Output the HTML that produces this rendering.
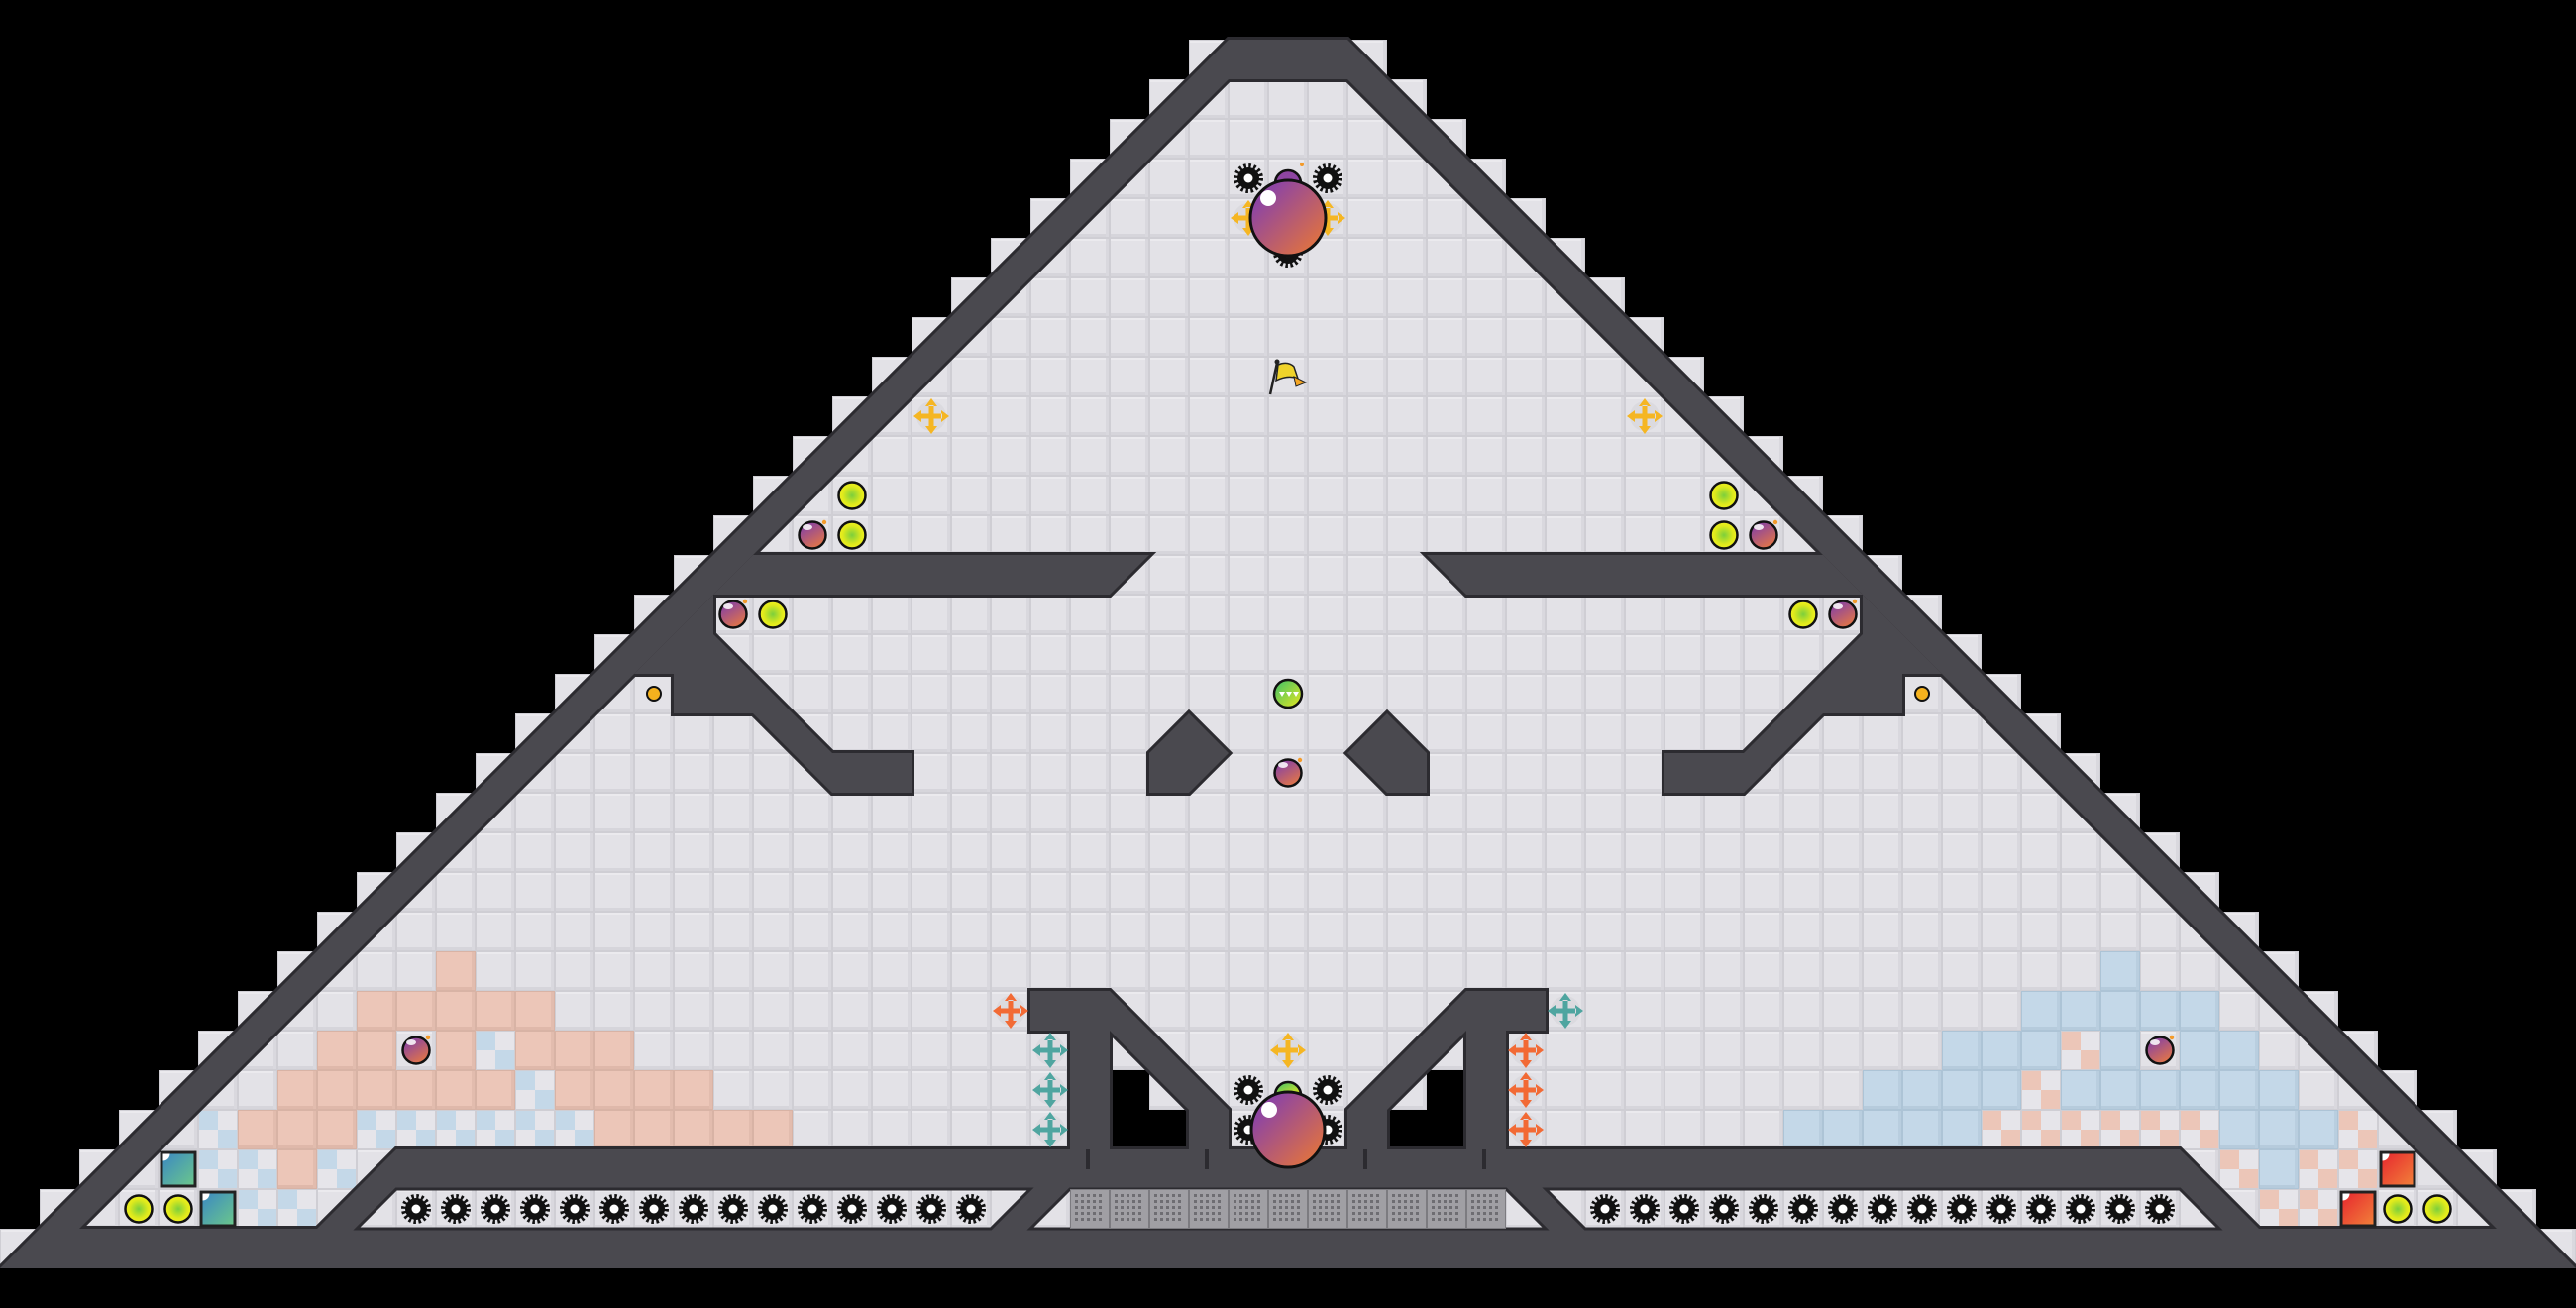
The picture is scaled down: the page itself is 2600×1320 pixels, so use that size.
<!DOCTYPE html>
<html><head><meta charset="utf-8"><style>
html,body{margin:0;padding:0;background:#000;}
svg{display:block;}
</style></head><body>
<svg width="2600" height="1320" viewBox="0 0 2600 1320" xmlns="http://www.w3.org/2000/svg">
<defs>
<pattern id="cell" width="40" height="40" patternUnits="userSpaceOnUse">
<rect width="40" height="40" fill="#cfced4"/><rect x="1" y="1" width="38" height="38" fill="#e3e2e7"/>
<rect x="1" y="36" width="38" height="3" fill="#d6d5db"/><rect x="36" y="1" width="3" height="38" fill="#d9d8de"/>
<rect x="1" y="1" width="35" height="2" fill="#ebeaee"/>
</pattern>
<pattern id="pk" width="40" height="40" patternUnits="userSpaceOnUse">
<rect width="40" height="40" fill="#d8b3a5"/><rect x="1" y="1" width="38" height="38" fill="#ecc6b8"/>
<rect x="1" y="36" width="38" height="3" fill="#dfb8aa"/><rect x="36" y="1" width="3" height="38" fill="#e2bcae"/>
</pattern>
<pattern id="bl" width="40" height="40" patternUnits="userSpaceOnUse">
<rect width="40" height="40" fill="#adc4d6"/><rect x="1" y="1" width="38" height="38" fill="#c4d8e8"/>
<rect x="1" y="36" width="38" height="3" fill="#b6cbdc"/><rect x="36" y="1" width="3" height="38" fill="#b9cedf"/>
</pattern>
<pattern id="ckb" width="40" height="40" patternUnits="userSpaceOnUse">
<rect width="40" height="40" fill="#cfced4"/><rect x="1" y="1" width="38" height="38" fill="#e6e5ea"/>
<rect x="1" y="1" width="19" height="19" fill="#c4d8e8"/><rect x="20" y="20" width="19" height="19" fill="#c4d8e8"/>
</pattern>
<pattern id="ckp" width="40" height="40" patternUnits="userSpaceOnUse">
<rect width="40" height="40" fill="#cfced4"/><rect x="1" y="1" width="38" height="38" fill="#e6e5ea"/>
<rect x="1" y="1" width="19" height="19" fill="#ecc6b8"/><rect x="20" y="20" width="19" height="19" fill="#ecc6b8"/>
</pattern>
<pattern id="grate" width="40" height="40" patternUnits="userSpaceOnUse">
<rect width="40" height="40" fill="#7c7b80"/><rect x="1" y="1" width="38" height="38" fill="#a09fa4"/>
<g fill="#6e6d72">
<rect x="5" y="5" width="3" height="3"/><rect x="11" y="5" width="3" height="3"/><rect x="17" y="5" width="3" height="3"/><rect x="23" y="5" width="3" height="3"/><rect x="29" y="5" width="3" height="3"/>
<rect x="5" y="11" width="3" height="3"/><rect x="11" y="11" width="3" height="3"/><rect x="17" y="11" width="3" height="3"/><rect x="23" y="11" width="3" height="3"/><rect x="29" y="11" width="3" height="3"/>
<rect x="5" y="17" width="3" height="3"/><rect x="11" y="17" width="3" height="3"/><rect x="17" y="17" width="3" height="3"/><rect x="23" y="17" width="3" height="3"/><rect x="29" y="17" width="3" height="3"/>
<rect x="5" y="23" width="3" height="3"/><rect x="11" y="23" width="3" height="3"/><rect x="17" y="23" width="3" height="3"/><rect x="23" y="23" width="3" height="3"/><rect x="29" y="23" width="3" height="3"/>
<rect x="5" y="29" width="3" height="3"/><rect x="11" y="29" width="3" height="3"/><rect x="17" y="29" width="3" height="3"/><rect x="23" y="29" width="3" height="3"/><rect x="29" y="29" width="3" height="3"/>
</g>
</pattern>
<radialGradient id="yel" cx="0.5" cy="0.5" r="0.5"><stop offset="0" stop-color="#7ccf3c"/><stop offset="0.7" stop-color="#e0ea1c"/><stop offset="1" stop-color="#eef020"/></radialGradient>
<linearGradient id="pur" x1="0" y1="0" x2="1" y2="1"><stop offset="0.2" stop-color="#8e45a2"/><stop offset="1" stop-color="#ef7a2e"/></linearGradient>
<linearGradient id="pur2" x1="0" y1="0" x2="0.6" y2="1"><stop offset="0.2" stop-color="#8a44a0"/><stop offset="1" stop-color="#e0744a"/></linearGradient>
<linearGradient id="teal" x1="0" y1="0" x2="1" y2="1"><stop offset="0" stop-color="#3a86c4"/><stop offset="1" stop-color="#6cc98a"/></linearGradient>
<linearGradient id="red" x1="0" y1="0" x2="1" y2="1"><stop offset="0" stop-color="#e6242e"/><stop offset="1" stop-color="#f2833a"/></linearGradient>
<linearGradient id="grn" x1="0" y1="0" x2="1" y2="1"><stop offset="0" stop-color="#3bbf6a"/><stop offset="1" stop-color="#e8e81e"/></linearGradient>
<symbol id="gear" viewBox="-20 -20 40 40" overflow="visible">
<circle r="11" fill="#111"/><circle r="12.5" fill="none" stroke="#111" stroke-width="5" stroke-dasharray="2.45 2.45"/><circle r="4.5" fill="#fff"/>
</symbol>
<symbol id="cross" viewBox="-20 -20 40 40" overflow="visible">
<circle r="15" fill="#d6d5db" opacity="0.6"/>
<path d="M-2.5,-11 h5 v8.5 h8.5 v5 h-8.5 v8.5 h-5 v-8.5 h-8.5 v-5 h8.5z M0,-18 L-6,-10 L6,-10z M0,18 L-6,10 L6,10z M-18,0 L-10,-6 L-10,6z M18,0 L10,-6 L10,6z"/>
</symbol>
<symbol id="yo" viewBox="-20 -20 40 40" overflow="visible"><circle r="13.5" fill="url(#yel)" stroke="#111" stroke-width="2.5"/></symbol>
<symbol id="bomb" viewBox="-20 -20 40 40" overflow="visible">
<circle r="13.5" fill="url(#pur2)" stroke="#111" stroke-width="2.5"/>
<ellipse cx="-5" cy="-8" rx="5" ry="3" fill="#fff" opacity="0.85"/><circle cx="12" cy="-13" r="2.2" fill="#f39a2a"/>
</symbol>
<symbol id="tb" viewBox="-20 -20 40 40" overflow="visible">
<rect x="-17" y="-17" width="34" height="34" fill="url(#teal)" stroke="#222" stroke-width="3"/><path d="M-15.5,-15.5 h7 a7,7 0 0 1 -7,7z" fill="#fff"/>
</symbol>
<symbol id="rb" viewBox="-20 -20 40 40" overflow="visible">
<rect x="-17" y="-17" width="34" height="34" fill="url(#red)" stroke="#222" stroke-width="3"/><path d="M-15.5,-15.5 h7 a7,7 0 0 1 -7,7z" fill="#fff"/>
</symbol>
<g id="walls">
<path fill-rule="evenodd" d="M1240,40 L1360,40 L2600,1280 L0,1280 Z M1240,80 L1360,80 L2520,1240 L80,1240 Z"/>
<polygon points="760,560 1160,560 1120,600 720,600 720,640 840,760 920,760 920,800 840,800 760,720 680,720 680,680 640,680"/>
<polygon points="1840,560 1440,560 1480,600 1880,600 1880,640 1760,760 1680,760 1680,800 1760,800 1840,720 1920,720 1920,680 1960,680"/>
<polygon points="1160,760 1200,720 1240,760 1200,800 1160,800"/>
<polygon points="1440,760 1400,720 1360,760 1400,800 1440,800"/>
<polygon points="400,1160 2200,1160 2280,1240 320,1240"/>
<polygon points="1040,1000 1120,1000 1240,1120 1240,1160 1200,1160 1200,1120 1120,1040 1120,1160 1080,1160 1080,1040 1040,1040"/>
<polygon points="1560,1000 1480,1000 1360,1120 1360,1160 1400,1160 1400,1120 1480,1040 1480,1160 1520,1160 1520,1040 1560,1040"/>
</g>
</defs>

<rect width="2600" height="1320" fill="#000"/>
<g fill="url(#cell)">
<rect x="1200" y="40" width="200" height="40"/><rect x="1160" y="80" width="280" height="40"/><rect x="1120" y="120" width="360" height="40"/>
<rect x="1080" y="160" width="440" height="40"/><rect x="1040" y="200" width="520" height="40"/><rect x="1000" y="240" width="600" height="40"/>
<rect x="960" y="280" width="680" height="40"/><rect x="920" y="320" width="760" height="40"/><rect x="880" y="360" width="840" height="40"/>
<rect x="840" y="400" width="920" height="40"/><rect x="800" y="440" width="1000" height="40"/><rect x="760" y="480" width="1080" height="40"/>
<rect x="720" y="520" width="1160" height="40"/><rect x="680" y="560" width="1240" height="40"/><rect x="640" y="600" width="1320" height="40"/>
<rect x="600" y="640" width="1400" height="40"/><rect x="560" y="680" width="1480" height="40"/><rect x="520" y="720" width="1560" height="40"/>
<rect x="480" y="760" width="1640" height="40"/><rect x="440" y="800" width="1720" height="40"/><rect x="400" y="840" width="1800" height="40"/>
<rect x="360" y="880" width="1880" height="40"/><rect x="320" y="920" width="1960" height="40"/><rect x="280" y="960" width="2040" height="40"/>
<rect x="240" y="1000" width="2120" height="40"/><rect x="200" y="1040" width="2200" height="40"/><rect x="160" y="1080" width="2280" height="40"/>
<rect x="120" y="1120" width="2360" height="40"/><rect x="80" y="1160" width="2440" height="40"/><rect x="40" y="1200" width="2520" height="40"/>
<rect x="0" y="1240" width="2600" height="40"/>
</g>

<!-- colored floor left -->
<rect x="440" y="960" width="40" height="40" fill="url(#pk)"/>
<rect x="360" y="1000" width="200" height="40" fill="url(#pk)"/>
<rect x="320" y="1040" width="80" height="40" fill="url(#pk)"/><rect x="440" y="1040" width="40" height="40" fill="url(#pk)"/><rect x="480" y="1040" width="40" height="40" fill="url(#ckb)"/><rect x="520" y="1040" width="120" height="40" fill="url(#pk)"/>
<rect x="280" y="1080" width="240" height="40" fill="url(#pk)"/><rect x="520" y="1080" width="40" height="40" fill="url(#ckb)"/><rect x="560" y="1080" width="160" height="40" fill="url(#pk)"/>
<rect x="200" y="1120" width="40" height="40" fill="url(#ckb)"/><rect x="240" y="1120" width="120" height="40" fill="url(#pk)"/><rect x="360" y="1120" width="240" height="40" fill="url(#ckb)"/><rect x="600" y="1120" width="200" height="40" fill="url(#pk)"/>
<rect x="200" y="1160" width="80" height="40" fill="url(#ckb)"/><rect x="280" y="1160" width="40" height="40" fill="url(#pk)"/><rect x="320" y="1160" width="40" height="40" fill="url(#ckb)"/>
<rect x="240" y="1200" width="80" height="40" fill="url(#ckb)"/>
<!-- colored floor right -->
<rect x="2120" y="960" width="40" height="40" fill="url(#bl)"/>
<rect x="2040" y="1000" width="200" height="40" fill="url(#bl)"/>
<rect x="1960" y="1040" width="120" height="40" fill="url(#bl)"/><rect x="2080" y="1040" width="40" height="40" fill="url(#ckp)"/><rect x="2120" y="1040" width="40" height="40" fill="url(#bl)"/><rect x="2200" y="1040" width="80" height="40" fill="url(#bl)"/>
<rect x="1880" y="1080" width="160" height="40" fill="url(#bl)"/><rect x="2040" y="1080" width="40" height="40" fill="url(#ckp)"/><rect x="2080" y="1080" width="240" height="40" fill="url(#bl)"/>
<rect x="1800" y="1120" width="200" height="40" fill="url(#bl)"/><rect x="2000" y="1120" width="240" height="40" fill="url(#ckp)"/><rect x="2240" y="1120" width="120" height="40" fill="url(#bl)"/><rect x="2360" y="1120" width="40" height="40" fill="url(#ckp)"/>
<rect x="2240" y="1160" width="40" height="40" fill="url(#ckp)"/><rect x="2280" y="1160" width="40" height="40" fill="url(#bl)"/><rect x="2320" y="1160" width="80" height="40" fill="url(#ckp)"/>
<rect x="2280" y="1200" width="80" height="40" fill="url(#ckp)"/>

<!-- void squares -->
<rect x="1120" y="1080" width="40" height="40" fill="#000"/><rect x="1120" y="1120" width="80" height="40" fill="#000"/>
<rect x="1440" y="1080" width="40" height="40" fill="#000"/><rect x="1400" y="1120" width="80" height="40" fill="#000"/>

<!-- walls: outline pass then fill pass (no internal seams) -->
<use href="#walls" fill="#2c2b30" stroke="#2c2b30" stroke-width="6" stroke-linejoin="miter"/>
<use href="#walls" fill="#4a494f"/>

<!-- channels -->
<polygon points="1040,1200 400,1200 360,1240 1000,1240" fill="url(#cell)" stroke="#2c2b30" stroke-width="3"/>
<polygon points="1080,1200 1520,1200 1560,1240 1040,1240" fill="url(#cell)" stroke="#2c2b30" stroke-width="3"/>
<polygon points="1560,1200 2200,1200 2240,1240 1600,1240" fill="url(#cell)" stroke="#2c2b30" stroke-width="3"/>
<rect x="1080" y="1200" width="440" height="40" fill="url(#grate)"/>
<rect x="0" y="1280" width="2600" height="40" fill="#000"/>
<g fill="#2c2b30">
<rect x="1096" y="1160" width="4" height="20"/><rect x="1216" y="1160" width="4" height="20"/><rect x="1376" y="1160" width="4" height="20"/><rect x="1496" y="1160" width="4" height="20"/>
</g>

<!-- gears in channels -->
<g>
<use href="#gear" x="400" y="1200" width="40" height="40"/><use href="#gear" x="440" y="1200" width="40" height="40"/><use href="#gear" x="480" y="1200" width="40" height="40"/><use href="#gear" x="520" y="1200" width="40" height="40"/><use href="#gear" x="560" y="1200" width="40" height="40"/>
<use href="#gear" x="600" y="1200" width="40" height="40"/><use href="#gear" x="640" y="1200" width="40" height="40"/><use href="#gear" x="680" y="1200" width="40" height="40"/><use href="#gear" x="720" y="1200" width="40" height="40"/><use href="#gear" x="760" y="1200" width="40" height="40"/>
<use href="#gear" x="800" y="1200" width="40" height="40"/><use href="#gear" x="840" y="1200" width="40" height="40"/><use href="#gear" x="880" y="1200" width="40" height="40"/><use href="#gear" x="920" y="1200" width="40" height="40"/><use href="#gear" x="960" y="1200" width="40" height="40"/>
<use href="#gear" x="1600" y="1200" width="40" height="40"/><use href="#gear" x="1640" y="1200" width="40" height="40"/><use href="#gear" x="1680" y="1200" width="40" height="40"/><use href="#gear" x="1720" y="1200" width="40" height="40"/><use href="#gear" x="1760" y="1200" width="40" height="40"/>
<use href="#gear" x="1800" y="1200" width="40" height="40"/><use href="#gear" x="1840" y="1200" width="40" height="40"/><use href="#gear" x="1880" y="1200" width="40" height="40"/><use href="#gear" x="1920" y="1200" width="40" height="40"/><use href="#gear" x="1960" y="1200" width="40" height="40"/>
<use href="#gear" x="2000" y="1200" width="40" height="40"/><use href="#gear" x="2040" y="1200" width="40" height="40"/><use href="#gear" x="2080" y="1200" width="40" height="40"/><use href="#gear" x="2120" y="1200" width="40" height="40"/><use href="#gear" x="2160" y="1200" width="40" height="40"/>
</g>

<!-- blocks and ovals bottom corners -->
<use href="#tb" x="160" y="1160" width="40" height="40"/><use href="#tb" x="200" y="1200" width="40" height="40"/>
<use href="#yo" x="120" y="1200" width="40" height="40"/><use href="#yo" x="160" y="1200" width="40" height="40"/>
<use href="#rb" x="2400" y="1160" width="40" height="40"/><use href="#rb" x="2360" y="1200" width="40" height="40"/>
<use href="#yo" x="2400" y="1200" width="40" height="40"/><use href="#yo" x="2440" y="1200" width="40" height="40"/>

<use href="#bomb" x="400" y="1040" width="40" height="40"/>
<use href="#bomb" x="2160" y="1040" width="40" height="40"/>

<use href="#yo" x="840" y="480" width="40" height="40"/><use href="#yo" x="840" y="520" width="40" height="40"/><use href="#bomb" x="800" y="520" width="40" height="40"/>
<use href="#bomb" x="720" y="600" width="40" height="40"/><use href="#yo" x="760" y="600" width="40" height="40"/>
<use href="#yo" x="1720" y="480" width="40" height="40"/><use href="#yo" x="1720" y="520" width="40" height="40"/><use href="#bomb" x="1760" y="520" width="40" height="40"/>
<use href="#yo" x="1800" y="600" width="40" height="40"/><use href="#bomb" x="1840" y="600" width="40" height="40"/>
<circle cx="660" cy="700" r="7" fill="#f5b21e" stroke="#111" stroke-width="2"/>
<circle cx="1940" cy="700" r="7" fill="#f5b21e" stroke="#111" stroke-width="2"/>

<circle cx="1300" cy="700" r="14" fill="url(#grn)" stroke="#111" stroke-width="2.5"/>
<path d="M1291,698 l3,5 l3,-5z M1298,698 l3,5 l3,-5z M1305,698 l3,5 l3,-5z" fill="#fff"/>
<use href="#bomb" x="1280" y="760" width="40" height="40"/>

<use href="#cross" x="920" y="400" width="40" height="40" fill="#f5b623"/>
<use href="#cross" x="1640" y="400" width="40" height="40" fill="#f5b623"/>
<use href="#cross" x="1000" y="1000" width="40" height="40" fill="#f26a35"/>
<use href="#cross" x="1040" y="1040" width="40" height="40" fill="#4fa5a0"/>
<use href="#cross" x="1040" y="1080" width="40" height="40" fill="#4fa5a0"/>
<use href="#cross" x="1040" y="1120" width="40" height="40" fill="#4fa5a0"/>
<use href="#cross" x="1280" y="1040" width="40" height="40" fill="#f5b623"/>
<use href="#cross" x="1520" y="1040" width="40" height="40" fill="#f26a35"/>
<use href="#cross" x="1520" y="1080" width="40" height="40" fill="#f26a35"/>
<use href="#cross" x="1520" y="1120" width="40" height="40" fill="#f26a35"/>
<use href="#cross" x="1560" y="1000" width="40" height="40" fill="#4fa5a0"/>

<line x1="1289" y1="366" x2="1282" y2="398" stroke="#222" stroke-width="2.5"/>
<circle cx="1289" cy="365" r="2.5" fill="#222"/>
<path d="M1290,368 Q1300,364 1306,370 L1310,382 Q1300,378 1288,384 Z" fill="#f0d32a" stroke="#222" stroke-width="1.5"/>
<path d="M1306,380 L1318,386 L1308,390 Z" fill="#f5a623" stroke="#222" stroke-width="1"/>

<use href="#cross" x="1240" y="200" width="40" height="40" fill="#f5b623"/>
<use href="#cross" x="1320" y="200" width="40" height="40" fill="#f5b623"/>
<use href="#gear" x="1240" y="160" width="40" height="40"/><use href="#gear" x="1320" y="160" width="40" height="40"/>
<use href="#gear" x="1280" y="235" width="40" height="40"/>
<path d="M1287,185 a13,13 0 0 1 26,0 z" fill="#8e45a2" stroke="#111" stroke-width="2.5"/>
<circle cx="1314" cy="166" r="2" fill="#f39a2a"/>
<circle cx="1300" cy="220" r="38" fill="url(#pur)" stroke="#111" stroke-width="3"/>
<circle cx="1280" cy="200" r="8" fill="#fff"/>

<use href="#gear" x="1240" y="1080" width="40" height="40"/><use href="#gear" x="1320" y="1080" width="40" height="40"/>
<use href="#gear" x="1240" y="1120" width="40" height="40"/><use href="#gear" x="1320" y="1120" width="40" height="40"/>
<path d="M1287,1105 a13,13 0 0 1 26,0 z" fill="url(#grn)" stroke="#111" stroke-width="2.5"/>
<ellipse cx="1300" cy="1140" rx="37" ry="38" fill="url(#pur)" stroke="#111" stroke-width="3"/>
<circle cx="1281" cy="1120" r="8" fill="#fff"/>
</svg>
</body></html>
